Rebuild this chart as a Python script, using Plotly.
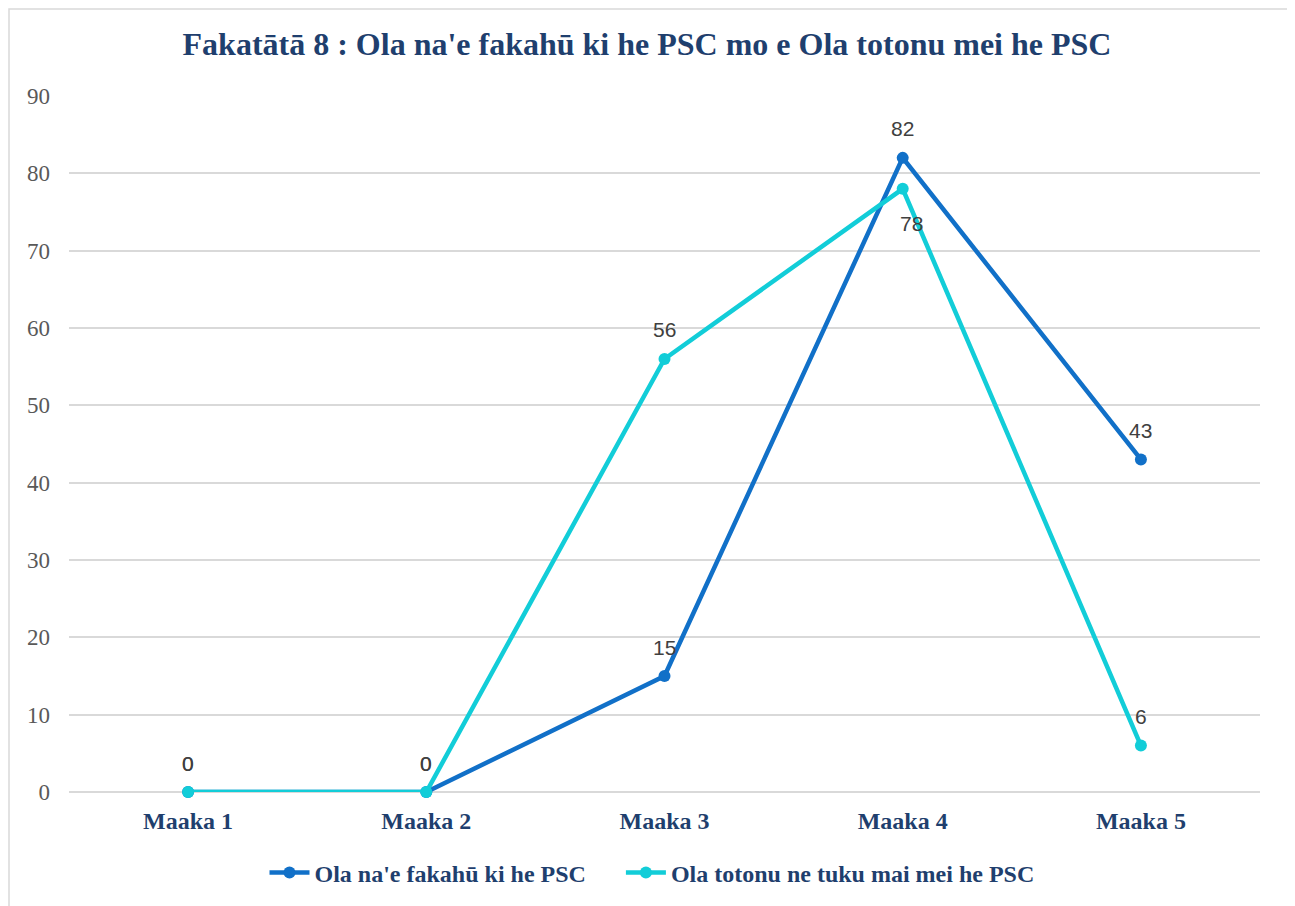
import plotly.graph_objects as go

categories = ["Maaka 1", "Maaka 2", "Maaka 3", "Maaka 4", "Maaka 5"]
series_names = ["Ola na'e fakahū ki he PSC", "Ola totonu ne tuku mai mei he PSC"]
values_paid = [0, 0, 15, 82, 43]
values_actual = [0, 0, 56, 78, 6]
y_ticks = [0, 10, 20, 30, 40, 50, 60, 70, 80, 90]

# page has an 8px body margin; figure coordinates are offset accordingly
OFF = 8
W, H = 1287, 898
ml, mt = 69 - OFF, 96 - OFF
mr = W - (1260 - OFF)
mb = H - (793 - OFF)
pw, ph = W - ml - mr, H - mt - mb

def px_x(px):
    return (px - OFF - ml) / pw

def px_y(py):
    return (H - mb - (py - OFF)) / ph

blue = "#1170C8"
cyan = "#12CDD8"
navy = "#1F3F6E"
serif = "Liberation Serif, Times New Roman, serif"
label_font = dict(family="Liberation Sans, Arial, sans-serif", size=21, color="#404040")

fig = go.Figure()
fig.add_trace(go.Scatter(
    x=categories, y=values_paid, name="<b>" + series_names[0] + "</b>" + "\u00a0" * 5,
    mode="lines+markers",
    line=dict(color=blue, width=4.5), marker=dict(color=blue, size=12), cliponaxis=False,
))
fig.add_trace(go.Scatter(
    x=categories, y=values_actual, name="<b>" + series_names[1] + "</b>",
    mode="lines+markers",
    line=dict(color=cyan, width=4.5), marker=dict(color=cyan, size=12), cliponaxis=False,
))

annotations = []
for c, v in zip(categories, values_paid):
    annotations.append(dict(x=c, y=v, text=str(v), showarrow=False, yshift=29,
                            font=label_font, xref="x", yref="y"))
for c, v, pv in zip(categories, values_actual, values_paid):
    below = v < pv and v > 0 and pv - v < 10
    annotations.append(dict(x=c, y=v, text=str(v), showarrow=False,
                            yshift=-35 if below else 29, xshift=9 if below else 0,
                            font=label_font, xref="x", yref="y"))

fig.update_layout(
    width=W, height=H,
    margin=dict(l=ml, r=mr, t=mt, b=mb),
    paper_bgcolor="white", plot_bgcolor="white",
    title=dict(
        text="<b>Fakatātā 8 : Ola na'e fakahū ki he PSC mo e Ola totonu mei he PSC</b>",
        font=dict(family=serif, size=32, color=navy),
        x=(647 - OFF) / W, xanchor="center", xref="container",
        y=1 - (44 - OFF) / H, yanchor="middle", yref="container",
    ),
    xaxis=dict(
        type="category", range=[-0.5, 4.5], showgrid=False, showline=False, zeroline=False,
        ticks="", tickfont=dict(family=serif, size=24, color=navy),
        tickprefix="<b>", ticksuffix="</b>", ticklabelstandoff=12,
    ),
    yaxis=dict(
        range=[0, 90], tickvals=y_ticks, showgrid=True, gridcolor="#D9D9D9", gridwidth=1.5,
        zeroline=True, zerolinecolor="#D9D9D9", zerolinewidth=1.5, showline=False, ticks="",
        tickfont=dict(family=serif, size=23, color="#595959"),
        ticklabelstandoff=18,
    ),
    legend=dict(
        orientation="h", x=px_x(652), xanchor="center", y=px_y(873), yanchor="middle",
        font=dict(family=serif, size=24, color=navy),
        itemwidth=40, bgcolor="rgba(0,0,0,0)",
    ),
    showlegend=True,
    annotations=annotations,
    shapes=[dict(
        type="rect", xref="paper", yref="paper",
        x0=px_x(9), x1=px_x(1288), y0=px_y(930), y1=px_y(9),
        line=dict(color="#D9D9D9", width=1.5), fillcolor="rgba(0,0,0,0)", layer="below",
    )],
)

fig.write_html("out.html")
